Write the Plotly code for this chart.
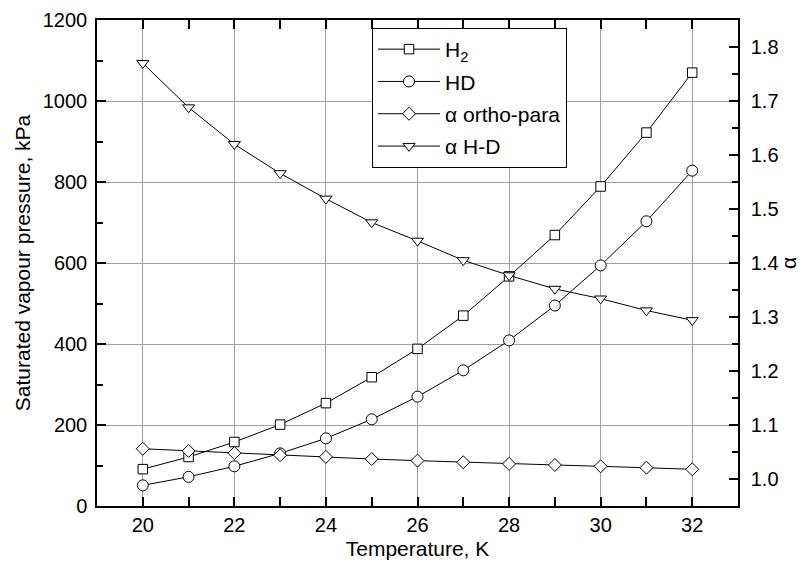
import plotly.graph_objects as go

T = [20, 21, 22, 23, 24, 25, 26, 27, 28, 29, 30, 31, 32]
p_H2 = [91, 121, 158, 201, 254, 318, 388, 470, 567, 669, 789, 922, 1070]
p_HD = [51, 72, 98, 130, 167, 214, 270, 335, 409, 495, 594, 703, 828]
alpha_op = [1.056, 1.052, 1.048, 1.044, 1.041, 1.037, 1.034, 1.031, 1.028, 1.026, 1.0235, 1.021, 1.018]
alpha_HD = [1.770, 1.688, 1.620, 1.566, 1.519, 1.475, 1.441, 1.405, 1.377, 1.352, 1.334, 1.312, 1.294]

FONT = "Liberation Sans, Arial, sans-serif"
ln = dict(color="black", width=1)

def mk(symbol, size):
    return dict(symbol=symbol, size=size, color="white", line=dict(color="black", width=1))

fig = go.Figure()
fig.add_trace(go.Scatter(x=T, y=p_H2, name="H<sub>2</sub>", mode="lines+markers",
                         line=ln, marker=mk("square", 9.5), yaxis="y", legendgroup="a"))
fig.add_trace(go.Scatter(x=T, y=p_HD, name="HD", mode="lines+markers",
                         line=ln, marker=mk("circle", 11), yaxis="y", legendgroup="b"))
fig.add_trace(go.Scatter(x=T, y=alpha_op, name="α ortho-para", mode="lines+markers",
                         line=ln, marker=mk("diamond", 10), yaxis="y2", legendgroup="c"))
fig.add_trace(go.Scatter(x=T, y=alpha_HD, name="α H-D", mode="lines+markers",
                         line=ln, marker=mk("triangle-down", 10.5), yaxis="y2", legendgroup="d"))

axis_common = dict(showline=True, linecolor="black", linewidth=1.5, ticks="inside",
                   tickcolor="black", ticklen=9, tickwidth=1.5, zeroline=False, automargin=False,
                   tickfont=dict(family=FONT, size=20, color="black"))

fig.update_layout(
    width=800, height=568,
    margin=dict(l=97, r=62, t=20, b=62),
    paper_bgcolor="white", plot_bgcolor="white",
    font=dict(family=FONT, size=20, color="black"),
    showlegend=True,
    legend=dict(x=(372 - 97) / 641, y=(506 - 28) / 486, xanchor="left", yanchor="top",
                bgcolor="white", bordercolor="black", borderwidth=1,
                font=dict(family=FONT, size=21, color="black"),
                itemwidth=62, tracegroupgap=2),
    xaxis=dict(range=[19, 33], tick0=20, dtick=2, mirror="allticks",
               showgrid=True, gridcolor="#a0a0a0", gridwidth=1,
               minor=dict(dtick=1, tick0=19, ticklen=6, tickcolor="black", ticks="inside", showgrid=False),
               title=dict(text="Temperature, K", font=dict(family=FONT, size=21), standoff=7),
               **axis_common),
    yaxis=dict(range=[0, 1200], dtick=200, mirror=False, ticklabelstandoff=4,
               showgrid=True, gridcolor="#a0a0a0", gridwidth=1,
               minor=dict(dtick=100, ticklen=6, tickcolor="black", ticks="inside", showgrid=False),
               title=dict(text="Saturated vapour pressure, kPa", font=dict(family=FONT, size=21), standoff=6),
               **axis_common),
    yaxis2=dict(range=[0.95, 1.85], dtick=0.1, tick0=1.0, overlaying="y", side="right",
                showgrid=False, tickformat=".1f", ticklabelstandoff=7,
                minor=dict(dtick=0.05, tick0=1.0, ticklen=6, tickcolor="black", ticks="inside", showgrid=False),
                title=dict(text="α", font=dict(family=FONT, size=21), standoff=10),
                **axis_common),
)

fig.write_html("out.html")
